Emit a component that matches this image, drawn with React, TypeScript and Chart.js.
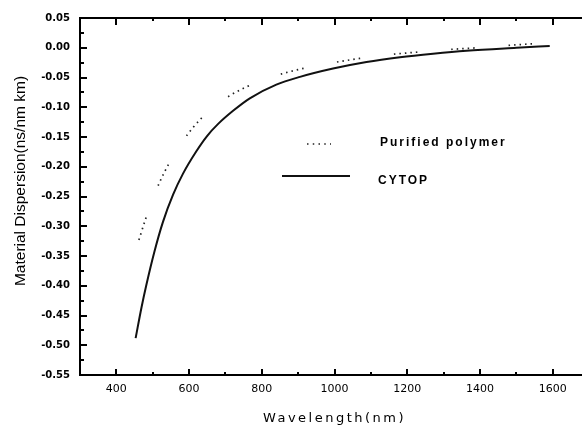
import React, { useEffect, useRef } from "react";
import { Chart, registerables } from "chart.js";

Chart.register(...registerables);

// ---- data ----
const cytopWavelength = [453, 469, 482, 505, 528, 556, 583, 620, 650, 680, 721, 767, 840, 905, 996, 1088, 1180, 1271, 1363, 1500, 1592];
const cytopDispersion = [-0.488, -0.437, -0.4, -0.342, -0.293, -0.247, -0.212, -0.174, -0.148, -0.128, -0.106, -0.085, -0.062, -0.049, -0.035, -0.024, -0.016, -0.01, -0.005, 0.0, 0.003];

const purifiedWavelength = [462, 482, 501, 519, 547, 579, 611, 638, 670, 716, 757, 817, 905, 978, 1069, 1143, 1234, 1289, 1394, 1455, 1555, 1587];
const purifiedDispersion = [-0.323, -0.285, -0.253, -0.226, -0.192, -0.16, -0.134, -0.116, -0.098, -0.079, -0.066, -0.051, -0.036, -0.027, -0.018, -0.012, -0.007, -0.004, 0.0, 0.003, 0.007, 0.008];

const seriesLabels = ["Purified polymer", "CYTOP"];

const xMajorTicks = [400, 600, 800, 1000, 1200, 1400, 1600];
const xMinorTicks = [500, 700, 900, 1100, 1300, 1500];
const yMajorTicks = [0.05, 0.0, -0.05, -0.1, -0.15, -0.2, -0.25, -0.3, -0.35, -0.4, -0.45, -0.5, -0.55];
const yMinorTicks = [0.025, -0.025, -0.075, -0.125, -0.175, -0.225, -0.275, -0.325, -0.375, -0.425, -0.475, -0.525];

const xTitle = "Wavelength(nm)";
const yTitle = "Material Dispersion(ns/nm km)";

const dottedDash = [1.5, 4, 1.5, 4, 1.5, 4, 1.5, 4, 1.5, 34];

const framePlugin = {
  id: "frameDecor",
  afterDraw(chart: any) {
    const { ctx, chartArea: a, scales } = chart;
    const x = scales.x;
    const y = scales.y;
    ctx.save();
    ctx.strokeStyle = "#000";
    ctx.lineWidth = 2;
    ctx.lineCap = "butt";
    // top frame line
    ctx.beginPath();
    ctx.moveTo(a.left - 1, a.top);
    ctx.lineTo(a.right, a.top);
    ctx.stroke();
    // x ticks (inward, bottom and top)
    const drawX = (vals: number[], lenB: number, lenT: number) => {
      vals.forEach((v) => {
        const px = Math.round(x.getPixelForValue(v));
        ctx.beginPath();
        ctx.moveTo(px, a.bottom);
        ctx.lineTo(px, a.bottom - lenB);
        ctx.moveTo(px, a.top);
        ctx.lineTo(px, a.top + lenT);
        ctx.stroke();
      });
    };
    drawX(xMajorTicks, 6, 7);
    drawX(xMinorTicks, 3, 3);
    // y ticks (inward, left)
    const drawY = (vals: number[], len: number) => {
      vals.forEach((v) => {
        const py = Math.round(y.getPixelForValue(v));
        ctx.beginPath();
        ctx.moveTo(a.left, py);
        ctx.lineTo(a.left + len, py);
        ctx.stroke();
      });
    };
    drawY(yMajorTicks, 7);
    drawY(yMinorTicks, 4);

    // legend
    const ds = chart.data.datasets;
    ctx.fillStyle = "#000";
    ctx.font = 'bold 12px "Liberation Sans"';
    ctx.textBaseline = "middle";
    ctx.textAlign = "left";
    (ctx as any).letterSpacing = "2px";
    ctx.strokeStyle = ds[0].borderColor;
    ctx.lineWidth = 1.6;
    ctx.setLineDash([1.5, 4.25]);
    ctx.beginPath();
    ctx.moveTo(307, 144);
    ctx.lineTo(331, 144);
    ctx.stroke();
    ctx.fillText(ds[0].label, 380, 143);
    ctx.setLineDash([]);
    ctx.strokeStyle = ds[1].borderColor;
    ctx.lineWidth = 2;
    ctx.beginPath();
    ctx.moveTo(282, 176);
    ctx.lineTo(350, 176);
    ctx.stroke();
    ctx.fillText(ds[1].label, 378, 181);

    // axis titles
    (ctx as any).letterSpacing = "2.5px";
    ctx.font = '13px "DejaVu Sans"';
    ctx.textAlign = "center";
    ctx.fillText(xTitle, (a.left + a.right) / 2, 419);
    (ctx as any).letterSpacing = "0px";
    ctx.font = '15.5px "Liberation Sans"';
    ctx.translate(21, 181);
    ctx.rotate(-Math.PI / 2);
    ctx.fillText(yTitle, 0, 0);
    ctx.restore();
  },
};

export default function App() {
  const ref = useRef<HTMLCanvasElement | null>(null);

  useEffect(() => {
    if (!ref.current) return;
    const chart = new Chart(ref.current, {
      type: "line",
      data: {
        datasets: [
          {
            label: seriesLabels[0],
            data: purifiedWavelength.map((w, i) => ({ x: w, y: purifiedDispersion[i] })),
            borderColor: "#222222",
            borderWidth: 1.7,
            borderDash: dottedDash,
            borderCapStyle: "butt",
            cubicInterpolationMode: "monotone",
            pointRadius: 0,
            fill: false,
          },
          {
            label: seriesLabels[1],
            data: cytopWavelength.map((w, i) => ({ x: w, y: cytopDispersion[i] })),
            borderColor: "#111111",
            borderWidth: 2,
            cubicInterpolationMode: "monotone",
            pointRadius: 0,
            fill: false,
          },
        ],
      },
      options: {
        animation: false,
        responsive: false,
        layout: { padding: { left: 0, top: 18, right: 3, bottom: 0 } },
        plugins: { legend: { display: false }, tooltip: { enabled: false } },
        scales: {
          x: {
            type: "linear",
            min: 300,
            max: 1700,
            afterBuildTicks: (s: any) => {
              s.ticks = xMajorTicks.map((v) => ({ value: v }));
            },
            afterFit: (s: any) => {
              s.height = 52;
            },
            grid: { display: false, drawTicks: false, tickLength: 0 },
            border: { display: true, color: "#000", width: 2 },
            ticks: {
              padding: 8,
              color: "#000",
              maxRotation: 0,
              autoSkip: false,
              font: { family: "DejaVu Sans", size: 11 },
              callback: (v: any) => String(v),
            },
          },
          y: {
            type: "linear",
            min: -0.55,
            max: 0.05,
            afterBuildTicks: (s: any) => {
              s.ticks = yMajorTicks.map((v) => ({ value: v }));
            },
            afterFit: (s: any) => {
              s.width = 80;
            },
            grid: { display: false, drawTicks: false, tickLength: 0 },
            border: { display: true, color: "#000", width: 2 },
            ticks: {
              padding: 10,
              color: "#000",
              autoSkip: false,
              font: { family: "DejaVu Sans", size: 10, weight: "bold" },
              callback: (v: any) => Number(v).toFixed(2),
            },
          },
        },
      },
      plugins: [framePlugin],
    } as any);
    return () => chart.destroy();
  }, []);

  return (
    <div
      style={{
        position: "absolute",
        left: 0,
        top: 0,
        width: 582,
        height: 427,
        overflow: "hidden",
        background: "#fff",
      }}
    >
      <canvas ref={ref} width={592} height={427} style={{ width: 592, height: 427, display: "block" }} />
    </div>
  );
}
